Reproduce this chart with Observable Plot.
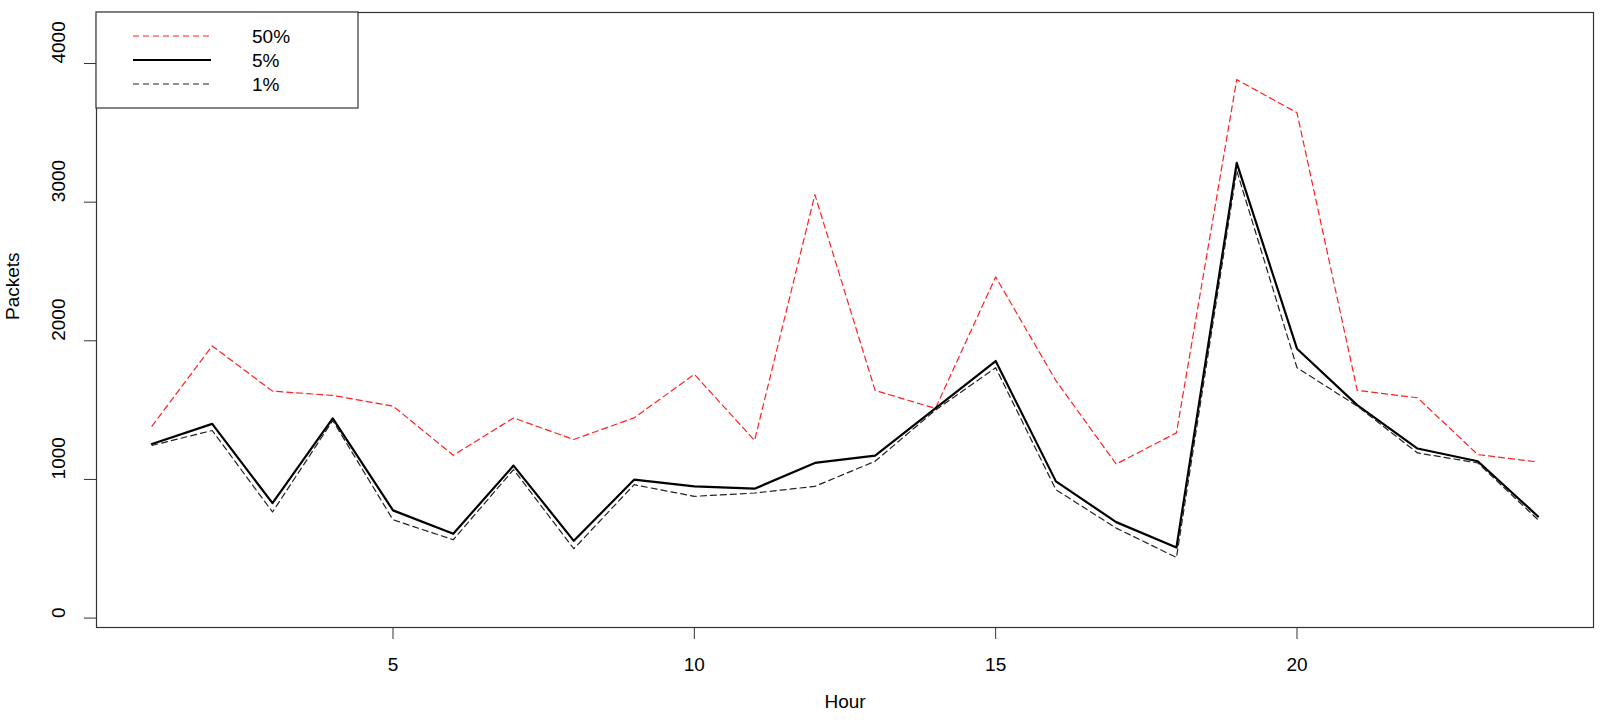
<!DOCTYPE html>
<html>
<head>
<meta charset="utf-8">
<script src="https://cdn.jsdelivr.net/npm/d3@7"></script>
<script src="https://cdn.jsdelivr.net/npm/@observablehq/plot@0.6"></script>
<style>
  html, body { margin: 0; padding: 0; background: #fff; }
  #chart svg { display: block; }
</style>
</head>
<body>
<div id="chart"></div>
<script>
const hours = [1,2,3,4,5,6,7,8,9,10,11,12,13,14,15,16,17,18,19,20,21,22,23,24];
const p50 = [1384,1963,1637,1606,1529,1174,1444,1288,1444,1758,1281,3054,1642,1512,2461,1712,1111,1336,3884,3645,1642,1589,1179,1126];
const p5  = [1256,1401,829,1440,777,608,1100,557,998,950,933,1119,1172,1512,1854,986,692,509,3283,1943,1536,1223,1131,733];
const p1  = [1245,1353,765,1425,709,565,1071,500,962,878,902,950,1131,1500,1806,926,649,437,3228,1806,1529,1191,1119,709];
const xTicks = [5,10,15,20];
const yTicks = [0,1000,2000,3000,4000];
const seriesNames = ["50%","5%","1%"];
const xLabel = "Hour";
const yLabel = "Packets";

const FONT = "'Liberation Sans', Arial, Helvetica, sans-serif";
const FS = 19;

const mk = (vals) => hours.map((h, i) => ({hour: h, v: vals[i]}));
const d50 = mk(p50), d5 = mk(p5), d1 = mk(p1);

const styles = [
  {stroke: "#ff2020", strokeWidth: 1.2, strokeDasharray: "6,4"},
  {stroke: "#000", strokeWidth: 2.2, strokeDasharray: null},
  {stroke: "#222", strokeWidth: 1.2, strokeDasharray: "6,4"}
];

const chart = Plot.plot({
  width: 1600,
  height: 727,
  marginLeft: 96,
  marginRight: 7,
  marginTop: 12,
  marginBottom: 100,
  style: {fontFamily: FONT, fontSize: FS + "px", background: "#fff", color: "#000"},
  x: {domain: [0.08, 24.92]},
  y: {domain: [-68, 4368]},
  marks: [
    Plot.line(d50, {x: "hour", y: "v", ...styles[0]}),
    Plot.line(d5, {x: "hour", y: "v", ...styles[1]}),
    Plot.line(d1, {x: "hour", y: "v", ...styles[2]}),
    Plot.frame({stroke: "#333", strokeWidth: 1.2}),
    Plot.axisX({ticks: xTicks, tickSize: 12, tickPadding: 18, fontSize: FS, label: null, stroke: "#333"}),
    Plot.axisY({ticks: yTicks, tickSize: 12, tickFormat: () => "", label: null, stroke: "#333"}),
    Plot.text(yTicks, {y: d => d, text: d => String(d), frameAnchor: "left", dx: -38, rotate: -90, fontSize: FS, fill: "#000"}),
    Plot.text([xLabel], {frameAnchor: "bottom", dy: 80, fontSize: FS, fill: "#000"}),
    Plot.text([yLabel], {frameAnchor: "left", dx: -84, rotate: -90, fontSize: FS, fill: "#000"})
  ]
});

document.getElementById("chart").appendChild(chart);

// Legend (R-style boxed legend in top-left corner)
const svg = d3.select(chart);
const lg = svg.append("g").attr("font-family", FONT).attr("font-size", FS).attr("text-anchor", "start");
lg.append("rect").attr("x", 96).attr("y", 12).attr("width", 262).attr("height", 96)
  .attr("fill", "#fff").attr("stroke", "#333").attr("stroke-width", 1.2);
const rowsY = [36, 60, 84];
seriesNames.forEach((name, i) => {
  const s = styles[i];
  lg.append("line").attr("x1", 133).attr("x2", 211).attr("y1", rowsY[i]).attr("y2", rowsY[i])
    .attr("stroke", s.stroke).attr("stroke-width", s.strokeWidth)
    .attr("stroke-dasharray", s.strokeDasharray);
  lg.append("text").attr("x", 252).attr("y", rowsY[i]).attr("dy", "0.36em")
    .attr("text-anchor", "start").attr("fill", "#000").text(name);
});
</script>
</body>
</html>
